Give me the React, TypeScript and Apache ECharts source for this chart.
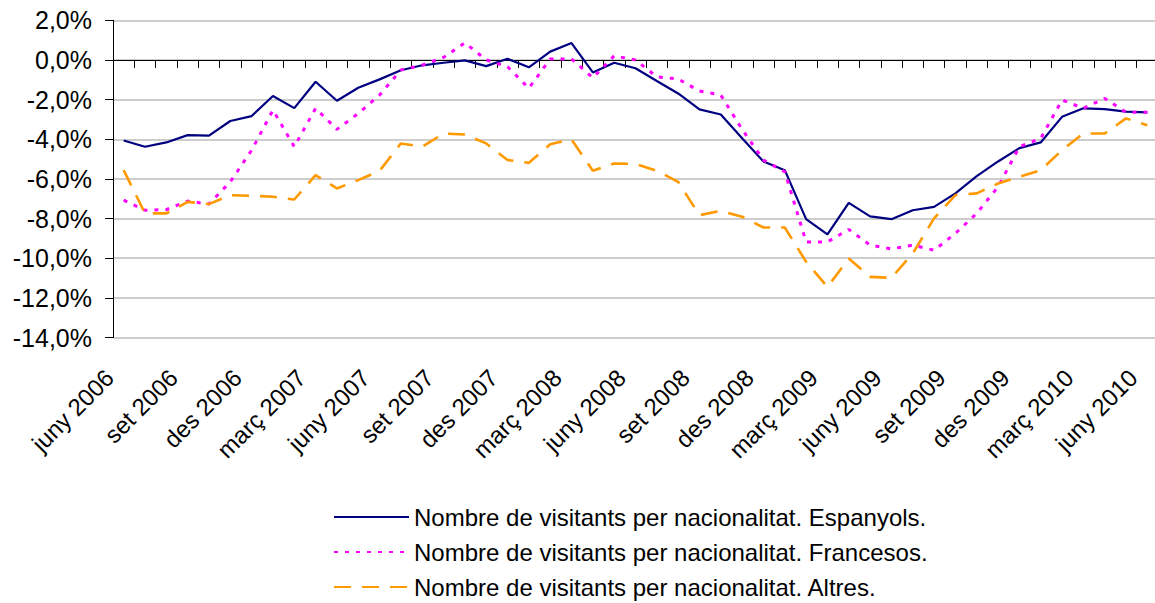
import React, { useEffect, useRef } from "react";
import * as echarts from "echarts";

const categories: string[] = [
  "juny 2006", "jul 2006", "ag 2006", "set 2006", "oct 2006", "nov 2006", "des 2006",
  "gen 2007", "febr 2007", "març 2007", "abr 2007", "maig 2007", "juny 2007", "jul 2007",
  "ag 2007", "set 2007", "oct 2007", "nov 2007", "des 2007",
  "gen 2008", "febr 2008", "març 2008", "abr 2008", "maig 2008", "juny 2008", "jul 2008",
  "ag 2008", "set 2008", "oct 2008", "nov 2008", "des 2008",
  "gen 2009", "febr 2009", "març 2009", "abr 2009", "maig 2009", "juny 2009", "jul 2009",
  "ag 2009", "set 2009", "oct 2009", "nov 2009", "des 2009",
  "gen 2010", "febr 2010", "març 2010", "abr 2010", "maig 2010", "juny 2010",
];

const espanyols: number[] = [
  -4.06, -4.38, -4.16, -3.79, -3.82, -3.08, -2.83, -1.82, -2.43, -1.1, -2.06, -1.4, -0.98,
  -0.52, -0.27, -0.14, -0.02, -0.31, 0.06, -0.37, 0.42, 0.85, -0.63, -0.14, -0.42, -1.06,
  -1.69, -2.49, -2.75, -3.95, -5.12, -5.56, -8.03, -8.8, -7.21, -7.89, -8.03, -7.58, -7.41,
  -6.73, -5.86, -5.12, -4.45, -4.16, -2.87, -2.44, -2.48, -2.61, -2.64,
];

const francesos: number[] = [
  -7.07, -7.58, -7.55, -7.12, -7.27, -6.15, -4.55, -2.53, -4.38, -2.44, -3.5, -2.7, -1.77,
  -0.51, -0.26, 0.13, 0.87, 0.0, -0.34, -1.43, 0.05, 0.05, -0.9, 0.21, 0.0, -0.85,
  -0.96, -1.57, -1.77, -3.5, -5.05, -5.64, -9.18, -9.18, -8.55, -9.34, -9.53, -9.34, -9.6,
  -8.75, -7.74, -6.4, -4.38, -3.96, -2.02, -2.44, -1.94, -2.64, -2.64,
];

const altres: number[] = [
  -5.56, -7.74, -7.74, -7.16, -7.27, -6.82, -6.85, -6.9, -7.04, -5.81, -6.48, -6.06, -5.59,
  -4.21, -4.38, -3.71, -3.76, -4.21, -5.05, -5.19, -4.25, -4.01, -5.59, -5.22, -5.25, -5.59,
  -6.15, -7.83, -7.61, -7.91, -8.45, -8.45, -10.18, -11.45, -10.02, -10.94, -10.99, -9.76, -7.99,
  -6.82, -6.73, -6.23, -5.9, -5.56, -4.55, -3.71, -3.71, -2.95, -3.29,
];

const seriesNames: string[] = [
  "Nombre de visitants per nacionalitat. Espanyols.",
  "Nombre de visitants per nacionalitat. Francesos.",
  "Nombre de visitants per nacionalitat. Altres.",
];

const FONT = "'Liberation Sans', Arial, sans-serif";

export default function App() {
  const ref = useRef<HTMLDivElement>(null);

  useEffect(() => {
    document.body.style.margin = "0";
    document.body.style.overflow = "hidden";
    if (!ref.current) return;
    const chart = echarts.init(ref.current, null, { renderer: "svg" });
    chart.setOption({
      animation: false,
      backgroundColor: "#ffffff",
      textStyle: { fontFamily: FONT },
      grid: { left: 113, top: 20.3, width: 1045, height: 317.2, containLabel: false },
      legend: {
        orient: "vertical",
        left: 328,
        top: 500,
        height: 200,
        itemWidth: 75,
        itemHeight: 14,
        itemGap: 11,
        itemStyle: { opacity: 0 },
        textStyle: { fontFamily: FONT, fontSize: 24, color: "#000" },
        data: seriesNames,
      },
      xAxis: {
        type: "category",
        data: categories,
        boundaryGap: true,
        axisLine: { lineStyle: { color: "#000", width: 1 } },
        axisTick: { show: true, interval: 0, length: 8, lineStyle: { color: "#000" } },
        axisLabel: {
          interval: 2,
          rotate: 45,
          margin: 22,
          padding: [0, 20, 0, 0],
          fontSize: 24,
          fontFamily: FONT,
          color: "#000",
        },
        splitLine: { show: false },
      },
      yAxis: {
        type: "value",
        min: -14,
        max: 2,
        interval: 2,
        axisLine: { show: true, lineStyle: { color: "#000", width: 1 } },
        axisTick: { show: true, length: 8, lineStyle: { color: "#000" } },
        axisLabel: {
          margin: 21,
          fontSize: 25,
          fontFamily: FONT,
          color: "#000",
          formatter: (v: number) => v.toFixed(1).replace(".", ",") + "%",
        },
        splitLine: { show: true, lineStyle: { color: "#bdbdbd", width: 1.5 } },
      },
      series: [
        {
          name: seriesNames[0],
          type: "line",
          data: espanyols,
          symbol: "none",
          color: "#000080",
          lineStyle: { color: "#000080", width: 2.2, type: "solid" },
        },
        {
          name: seriesNames[1],
          type: "line",
          data: francesos,
          symbol: "none",
          color: "#ff00ff",
          lineStyle: { color: "#ff00ff", width: 3, type: [4, 7] },
        },
        {
          name: seriesNames[2],
          type: "line",
          data: altres,
          symbol: "none",
          color: "#ff9900",
          lineStyle: { color: "#ff9900", width: 2.6, type: [17, 11] },
        },
      ],
    });
    return () => chart.dispose();
  }, []);

  return (
    <div
      ref={ref}
      style={{ position: "fixed", left: 0, top: 0, width: 1160, height: 603 }}
    />
  );
}
